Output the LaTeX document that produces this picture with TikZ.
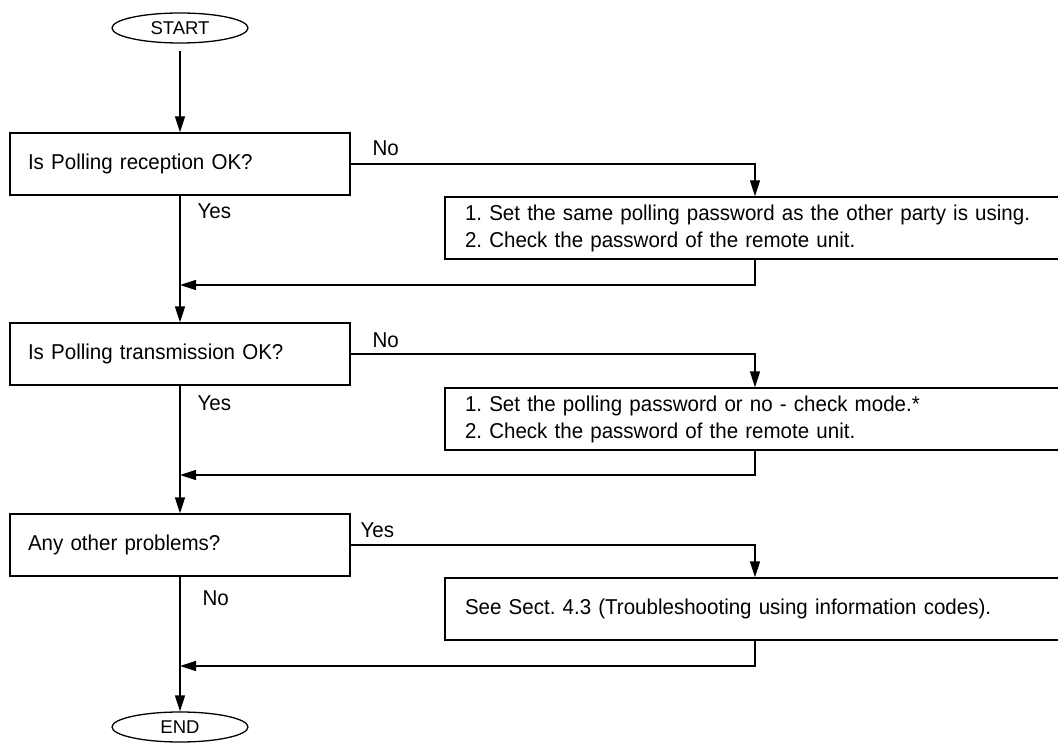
\documentclass[tikz,border=0pt]{standalone}
\usepackage{fontspec}
\setmainfont{Liberation Sans}[WordSpace=0.72,FakeStretch=0.955]
\newfontfamily\termfont{Liberation Sans}
\usetikzlibrary{arrows.meta,shapes.geometric}
\begin{document}
\frenchspacing
\begin{tikzpicture}[x=1pt,y=-1pt,line width=1.3pt,
  txt/.style={font=\fontsize{21.5}{27}\selectfont},
  decision/.style={draw,rectangle,txt,minimum width=340pt,minimum height=62pt,
    text width=304pt,inner xsep=18pt,inner ysep=0pt,align=left},
  action/.style={draw,rectangle,txt,minimum width=740pt,minimum height=62pt,
    text width=700pt,inner xsep=20pt,inner ysep=0pt,align=left},
  term/.style={draw,ellipse,minimum width=136pt,minimum height=30pt,inner sep=0pt,
    font=\termfont\fontsize{18.5}{22}\selectfont},
  lbl/.style={anchor=base west,inner sep=0pt,txt},
  arr/.style={-{Triangle[length=16pt,width=10pt]}}]
\clip (0,0) rectangle (1058,746);
\node[term] (start) at (180,28) {START};
\node[decision] (d1) at (180,164) {Is Polling reception OK?};
\node[action] (a1) at (815,228) {1. Set the same polling password as the other party is using.\\2. Check the password of the remote unit.};
\node[decision] (d2) at (180,354) {Is Polling transmission OK?};
\node[action] (a2) at (815,419) {1. Set the polling password or no - check mode.*\\2. Check the password of the remote unit.};
\node[decision] (d3) at (180,545) {Any other problems?};
\node[action] (a3) at (815,609) {See Sect. 4.3 (Troubleshooting using information codes).};
\node[term] (end) at (180,727) {END};
\coordinate (cx) at (755,0);
\coordinate (r1) at (180,285);
\coordinate (r2) at (180,475);
\coordinate (r3) at (180,666);
\node[lbl] (no1) at (372,156) {No};
\node[lbl] (yes1) at (197,219) {Yes};
\node[lbl] (no2) at (372,347) {No};
\node[lbl] (yes2) at (197,410) {Yes};
\node[lbl] (yes3) at (360,537) {Yes};
\node[lbl] (no3) at (202,605) {No};
\draw[arr,shorten <=7pt] (start) -- (d1);
\draw[arr] (d1) -- (d2);
\draw[arr] (d2) -- (d3);
\draw[arr] (d3) -- (end);
\draw[arr] (d1.east) -| (cx |- a1.north);
\draw[arr] (d2.east) -| (cx |- a2.north);
\draw[arr] (d3.east) -| (cx |- a3.north);
\draw[arr] (cx |- a1.south) |- (r1);
\draw[arr] (cx |- a2.south) |- (r2);
\draw[arr] (cx |- a3.south) |- (r3);
\end{tikzpicture}
\end{document}
